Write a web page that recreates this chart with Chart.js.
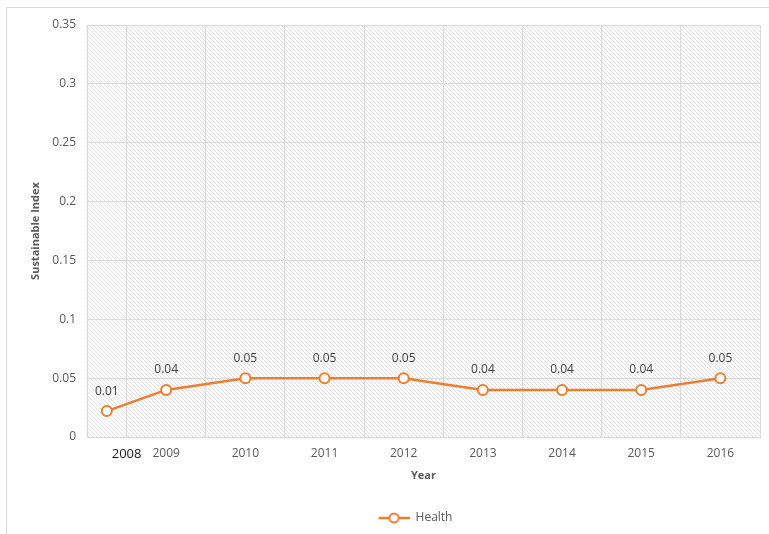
<!DOCTYPE html>
<html>
<head>
<meta charset="utf-8">
<script src="https://cdn.jsdelivr.net/npm/chart.js@4.4.1/dist/chart.umd.min.js"></script>
<style>
  html, body { margin: 0; padding: 0; background: #fff; }
  #wrap { width: 769px; height: 534px; position: relative; }
</style>
</head>
<body>
<div id="wrap"><canvas id="chart"></canvas></div>
<script>
// ── Data ──────────────────────────────────────────────────────────────────────
const years       = [2008, 2009, 2010, 2011, 2012, 2013, 2014, 2015, 2016];
// the 2008 point sits part-way into its (cut-off) category in the source picture
const xPositions  = [2008.25, 2009, 2010, 2011, 2012, 2013, 2014, 2015, 2016];
const healthIndex = [0.022, 0.04, 0.05, 0.05, 0.05, 0.04, 0.04, 0.04, 0.05];
const pointLabels = ["0.01", "0.04", "0.05", "0.05", "0.05", "0.04", "0.04", "0.04", "0.05"];
const yTicks      = [0, 0.05, 0.1, 0.15, 0.2, 0.25, 0.3, 0.35];

const ORANGE = "#ED7D31";
const FONT   = "'Open Sans', 'Liberation Sans', sans-serif";

const isFirstLabel = ctx => !!(ctx && ctx.tick && ctx.tick.value === 2008.5);

// ── Hatch pattern for the plot area ──────────────────────────────────────────
function makeHatch() {
  const c = document.createElement("canvas");
  c.width = 4; c.height = 4;
  const g = c.getContext("2d");
  g.fillStyle = "#ffffff";
  g.fillRect(0, 0, 4, 4);
  g.strokeStyle = "#dedede";
  g.lineWidth = 1;
  g.beginPath();
  g.moveTo(-1, -1); g.lineTo(5, 5);
  g.moveTo(-1, 3);  g.lineTo(1, 5);
  g.moveTo(3, -1);  g.lineTo(5, 1);
  g.stroke();
  return c;
}

// legend marker: short line with hollow circle (transparent lead-in shifts the
// legend item to the right, where it sits in the original)
function makeLegendMarker() {
  const c = document.createElement("canvas");
  c.width = 74; c.height = 12;
  const g = c.getContext("2d");
  g.strokeStyle = ORANGE;
  g.lineWidth = 2.5;
  g.beginPath(); g.moveTo(43, 6); g.lineTo(74, 6); g.stroke();
  g.fillStyle = "#fff";
  g.lineWidth = 2;
  g.beginPath(); g.arc(58.5, 6, 4.5, 0, Math.PI * 2); g.fill(); g.stroke();
  return c;
}

const hatchPlugin = {
  id: "hatch",
  beforeDraw(chart) {
    const { ctx, chartArea: a } = chart;
    ctx.save();
    // outer frame of the chart object
    ctx.strokeStyle = "#d9d9d9";
    ctx.lineWidth = 1;
    ctx.beginPath();
    ctx.moveTo(6.5, 534); ctx.lineTo(6.5, 7.5); ctx.lineTo(769, 7.5);
    ctx.stroke();
    ctx.fillStyle = ctx.createPattern(makeHatch(), "repeat");
    ctx.fillRect(a.left - 1, a.top, a.right - a.left + 1, a.bottom - a.top);
    // slightly lighter patch over the first (cut) category
    const x1 = chart.scales.x.getPixelForValue(2008.5);
    ctx.fillStyle = "rgba(245,245,245,0.45)";
    ctx.fillRect(a.left - 1, a.top, x1 - a.left + 1, a.bottom - a.top);
    ctx.restore();
  }
};

const dataLabelPlugin = {
  id: "pointLabels",
  afterDatasetsDraw(chart) {
    const { ctx } = chart;
    const meta = chart.getDatasetMeta(0);
    ctx.save();
    ctx.font = "12px " + FONT;
    ctx.fillStyle = "#404040";
    ctx.textAlign = "center";
    ctx.textBaseline = "bottom";
    meta.data.forEach((pt, i) => {
      ctx.fillText(pointLabels[i], pt.x, pt.y - 14);
    });
    ctx.restore();
  }
};

new Chart(document.getElementById("chart"), {
  type: "line",
  data: {
    datasets: [{
      label: "Health",
      data: healthIndex.map((v, i) => ({ x: xPositions[i], y: v })),
      borderColor: ORANGE,
      borderWidth: 2.5,
      pointBackgroundColor: "#fff",
      pointBorderColor: ORANGE,
      pointBorderWidth: 2,
      pointRadius: 5,
      tension: 0
    }]
  },
  options: {
    responsive: true,
    maintainAspectRatio: false,
    animation: false,
    layout: { padding: { left: 25, right: 6, top: 25, bottom: 0 } },
    scales: {
      x: {
        type: "linear",
        min: 2008,
        max: 2016.5,
        afterBuildTicks(scale) {
          const t = [];
          years.forEach(y => { t.push({ value: y }); t.push({ value: y + 0.5 }); });
          scale.ticks = t;
        },
        afterFit(scale) { scale.height = 65; },
        grid: {
          color: ctx => (ctx && ctx.tick && ctx.tick.value % 1 !== 0) ? "#dadada" : "rgba(0,0,0,0)",
          drawTicks: false
        },
        border: { color: "#d9d9d9" },
        ticks: {
          autoSkip: false,
          maxRotation: 0,
          padding: 9,
          color: ctx => isFirstLabel(ctx) ? "#1a1a1a" : "#595959",
          font: ctx => ({ family: FONT, size: isFirstLabel(ctx) ? 13 : 12 }),
          callback: v => {
            if (v === 2008.5) return "2008";
            if (v === 2008 || v % 1 !== 0) return "";
            return String(v);
          }
        },
        title: {
          display: true,
          text: "Year",
          color: "#595959",
          font: { family: FONT, size: 11, weight: "bold" },
          padding: { top: 6, bottom: 20 }
        }
      },
      y: {
        min: 0,
        max: 0.35,
        afterBuildTicks(scale) { scale.ticks = yTicks.map(v => ({ value: v })); },
        afterFit(scale) { scale.width = 62; },
        grid: { color: "#dadada", drawTicks: false },
        border: { color: "#d9d9d9" },
        ticks: {
          padding: 11,
          color: "#595959",
          font: { family: FONT, size: 12 },
          callback: v => String(+v.toFixed(2))
        },
        title: {
          display: true,
          text: "Sustainable Index",
          color: "#595959",
          font: { family: FONT, size: 11, weight: "bold" }
        }
      }
    },
    plugins: {
      legend: {
        position: "bottom",
        labels: {
          color: "#595959",
          font: { family: FONT, size: 12 },
          usePointStyle: true,
          pointStyleWidth: 74,
          generateLabels: chart => chart.data.datasets.map((ds, i) => ({
            text: ds.label,
            pointStyle: makeLegendMarker(),
            fontColor: "#595959",
            datasetIndex: i,
            lineWidth: 0
          }))
        }
      },
      tooltip: { enabled: false }
    }
  },
  plugins: [hatchPlugin, dataLabelPlugin]
});
</script>
</body>
</html>
